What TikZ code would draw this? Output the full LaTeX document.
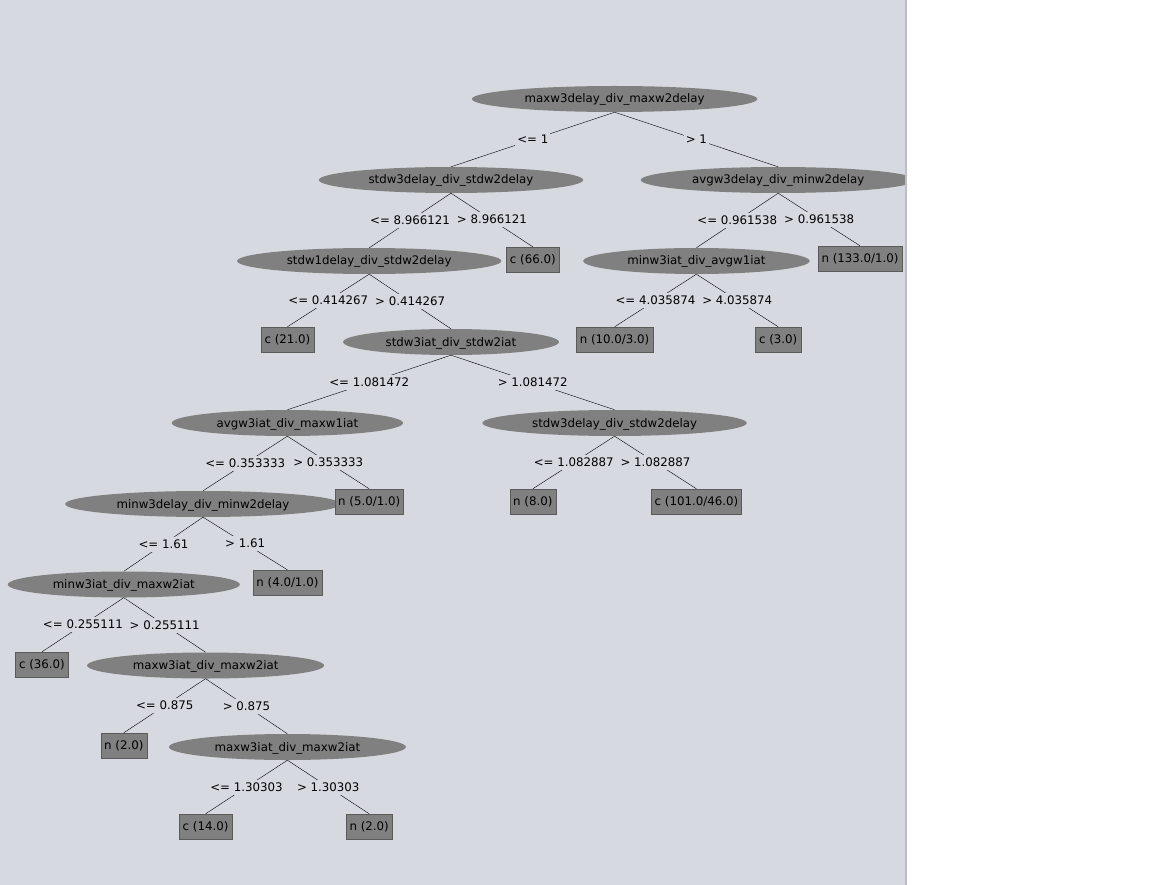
\documentclass[tikz,border=0pt]{standalone}
\usepackage{fontspec}
\setmainfont{DejaVu Sans}
\usetikzlibrary{shapes.geometric}
\definecolor{panelgray}{RGB}{214,217,223}
\definecolor{panelline}{RGB}{186,189,195}
\definecolor{nodegray}{RGB}{128,128,128}
\definecolor{leafedge}{RGB}{90,90,90}

\begin{document}
\begin{tikzpicture}[x=1pt,y=-1pt,
    font=\fontsize{11.8}{14}\selectfont,
    split/.style={ellipse,fill=nodegray,inner xsep=11pt,inner ysep=0pt,
      minimum height=26pt,text height=10pt,text depth=2pt},
    leaf/.style={rectangle,fill=nodegray,draw=leafedge,inner xsep=3.5pt,
      inner ysep=0pt,minimum height=25pt,text height=10pt,text depth=2pt},
    cond/.style={fill=panelgray,inner xsep=2pt,inner ysep=1.5pt,
      text height=10pt,text depth=2pt}]

    \useasboundingbox (0,0) rectangle (1153,885);
    \fill[panelgray] (0,0) rectangle (907,885);

    \begin{scope}
    \clip (0,0) rectangle (905,885);

    % split nodes and leaves, one row per tree level
    \node[split] (root) at (614.6,99) {maxw3delay\_div\_maxw2delay};

    \node[split] (stdDelay) at (451,180) {stdw3delay\_div\_stdw2delay};
    \node[split] (avgDelay) at (778.2,180) {avgw3delay\_div\_minw2delay};

    \node[split] (stdOneDelay) at (369.2,261) {stdw1delay\_div\_stdw2delay};
    \node[leaf] (leafC66) at (532.8,259.5) {c (66.0)};
    \node[split] (minIatAvg) at (696.4,261) {minw3iat\_div\_avgw1iat};
    \node[leaf] (leafN133) at (860,258.5) {n (133.0/1.0)};

    \node[leaf] (leafC21) at (287.4,339.5) {c (21.0)};
    \node[split] (stdIat) at (451,342) {stdw3iat\_div\_stdw2iat};
    \node[leaf] (leafN10) at (614.6,339.5) {n (10.0/3.0)};
    \node[leaf] (leafC3) at (778.2,339.5) {c (3.0)};

    \node[split] (avgIat) at (287.4,423) {avgw3iat\_div\_maxw1iat};
    \node[split] (stdDelayB) at (614.6,423) {stdw3delay\_div\_stdw2delay};

    \node[split] (minDelay) at (203,504) {minw3delay\_div\_minw2delay};
    \node[leaf] (leafN5) at (369.2,501.5) {n (5.0/1.0)};
    \node[leaf] (leafN8) at (532.8,501.5) {n (8.0)};
    \node[leaf] (leafC101) at (696.4,501.5) {c (101.0/46.0)};

    \node[split] (minIatMax) at (123.8,584.5) {minw3iat\_div\_maxw2iat};
    \node[leaf] (leafN4) at (287.4,582.5) {n (4.0/1.0)};

    \node[leaf] (leafC36) at (42,664.5) {c (36.0)};
    \node[split] (maxIat) at (205.6,665.5) {maxw3iat\_div\_maxw2iat};

    \node[leaf] (leafN2) at (123.8,745.5) {n (2.0)};
    \node[split] (maxIatB) at (287.4,747) {maxw3iat\_div\_maxw2iat};

    \node[leaf] (leafC14) at (205.6,826.5) {c (14.0)};
    \node[leaf] (leafN2b) at (369.2,826.5) {n (2.0)};

    % branches with their tests
    \draw (root.south) -- node[cond] {<= 1} (stdDelay.north);
    \draw (root.south) -- node[cond] {> 1} (avgDelay.north);

    \draw (stdDelay.south) -- node[cond] {<= 8.966121} (stdOneDelay.north);
    \draw (stdDelay.south) -- node[cond] {> 8.966121} (leafC66.north);
    \draw (avgDelay.south) -- node[cond] {<= 0.961538} (minIatAvg.north);
    \draw (avgDelay.south) -- node[cond] {> 0.961538} (leafN133.north);

    \draw (stdOneDelay.south) -- node[cond] {<= 0.414267} (leafC21.north);
    \draw (stdOneDelay.south) -- node[cond] {> 0.414267} (stdIat.north);
    \draw (minIatAvg.south) -- node[cond] {<= 4.035874} (leafN10.north);
    \draw (minIatAvg.south) -- node[cond] {> 4.035874} (leafC3.north);

    \draw (stdIat.south) -- node[cond] {<= 1.081472} (avgIat.north);
    \draw (stdIat.south) -- node[cond] {> 1.081472} (stdDelayB.north);

    \draw (avgIat.south) -- node[cond] {<= 0.353333} (minDelay.north);
    \draw (avgIat.south) -- node[cond] {> 0.353333} (leafN5.north);
    \draw (stdDelayB.south) -- node[cond] {<= 1.082887} (leafN8.north);
    \draw (stdDelayB.south) -- node[cond] {> 1.082887} (leafC101.north);

    \draw (minDelay.south) -- node[cond] {<= 1.61} (minIatMax.north);
    \draw (minDelay.south) -- node[cond] {> 1.61} (leafN4.north);

    \draw (minIatMax.south) -- node[cond] {<= 0.255111} (leafC36.north);
    \draw (minIatMax.south) -- node[cond] {> 0.255111} (maxIat.north);

    \draw (maxIat.south) -- node[cond] {<= 0.875} (leafN2.north);
    \draw (maxIat.south) -- node[cond] {> 0.875} (maxIatB.north);

    \draw (maxIatB.south) -- node[cond] {<= 1.30303} (leafC14.north);
    \draw (maxIatB.south) -- node[cond] {> 1.30303} (leafN2b.north);
    \end{scope}

    \draw[panelline,line width=1.5pt] (906,0) -- (906,885);
  \end{tikzpicture}
\end{document}
